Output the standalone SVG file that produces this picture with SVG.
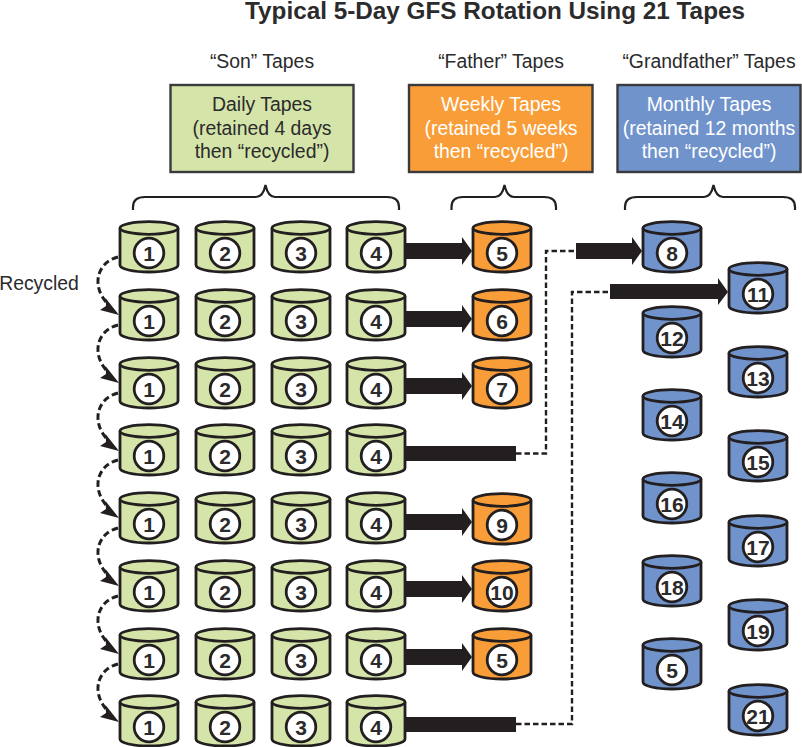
<svg xmlns="http://www.w3.org/2000/svg" width="802" height="747" viewBox="0 0 802 747">
<style>
text{font-family:"Liberation Sans",Arial,sans-serif;fill:#2b2a2c;text-anchor:middle;stroke:none}
.title{font-size:24.3px;font-weight:bold}
.head{font-size:19.4px}
.box{stroke:#3a3a3c;stroke-width:2.4}
.cap{font-size:19.4px}
.white{fill:#fff}
.can{stroke:#231f20;stroke-width:2.8}
.green{fill:#d5e5a9}.orange{fill:#f99d38}.blue{fill:#7093cc}
.num{font-size:21px;font-weight:bold}
.brace{fill:none;stroke:#231f20;stroke-width:2.2}
.dash{fill:none;stroke:#231f20;stroke-width:2.4;stroke-dasharray:5.500 3}
.curl{fill:none;stroke:#231f20;stroke-width:3;stroke-dasharray:6.500 3.500}
.bar{fill:#231f20}
</style>
<defs>
<!-- tape cylinder, origin at its top-left corner -->
<g id="body">
<path d="M0 7V44C0 48 13 51 29 51S58 48 58 44V7" stroke-linejoin="round"/>
<ellipse cx="29" cy="7" rx="29" ry="6.300"/>
<circle cx="29" cy="32" r="14.800" fill="#fff"/>
</g>
<!-- dashed reuse arc between two stacked daily tapes -->
<g id="arc">
<path class="curl" d="M118 36C98 41 91 63 106 81"/>
<path class="bar" d="M119 94L100 89L106 85L105.500 77Z"/>
</g>
<!-- short weekly arrow, tip at the origin -->
<path id="weekly-arrow" class="bar" d="M-66 -8H-10V-14L0 0L-10 14V8H-66Z"/>
</defs>
<text class="title" x="495" y="19">Typical 5-Day GFS Rotation Using 21 Tapes</text>
<text class="head" x="262" y="68">“Son” Tapes</text>
<text class="head" x="501" y="68">“Father” Tapes</text>
<text class="head" x="709" y="68">“Grandfather” Tapes</text>
<g id="daily-box"><rect class="box green" x="170.500" y="85" width="183" height="87"/>
<text class="cap" x="262" y="111">Daily Tapes</text><text class="cap" x="262" y="134.500">(retained 4 days</text><text class="cap" x="262" y="157.500">then “recycled”)</text></g>
<g id="weekly-box"><rect class="box orange" x="409" y="85" width="183.500" height="87"/>
<text class="cap white" x="501" y="111">Weekly Tapes</text><text class="cap white" x="501" y="134.500">(retained 5 weeks</text><text class="cap white" x="501" y="157.500">then “recycled”)</text></g>
<g id="monthly-box"><rect class="box blue" x="617.500" y="85" width="183" height="87"/>
<text class="cap white" x="709" y="111">Monthly Tapes</text><text class="cap white" x="709" y="134.500">(retained 12 months</text><text class="cap white" x="709" y="157.500">then “recycled”)</text></g>
<g id="braces">
<path class="brace" d="M133 210V207Q133 197 145 197H256Q263 197 265.500 185Q268 197 275 197H387Q399 197 399 207V210"/>
<path class="brace" d="M451.500 210V207Q451.500 197 463 197H495Q502 197 504.500 185Q507 197 514 197H544Q556 197 556 207V210"/>
<path class="brace" d="M625 210V207Q625 197 637 197H704Q711 197 713.500 185Q716 197 723 197H783Q795 197 795 207V210"/>
</g>
<text class="head" x="39" y="289.500">Recycled</text>
<g id="connectors">
<g id="recycle-arcs">
<use href="#arc" y="221"/><use href="#arc" y="289"/><use href="#arc" y="357"/><use href="#arc" y="424"/><use href="#arc" y="492"/><use href="#arc" y="560"/><use href="#arc" y="628"/>
</g>
<g id="to-weekly">
<use href="#weekly-arrow" x="472" y="251"/><use href="#weekly-arrow" x="472" y="319"/><use href="#weekly-arrow" x="472" y="386"/><use href="#weekly-arrow" x="472" y="522"/><use href="#weekly-arrow" x="472" y="589"/><use href="#weekly-arrow" x="472" y="657"/>
</g>
<g id="to-monthly">
<path class="bar" d="M406 446H516V461H406Z"/>
<path class="dash" d="M516 453.500H546V251H576"/>
<use href="#weekly-arrow" x="642" y="251"/>
<path class="bar" d="M406 717H516V732H406Z"/>
<path class="dash" d="M516 724H572V292H611"/>
<path class="bar" d="M610 284H718V278L728 292L718 305V299H610Z"/>
</g>
</g>
<g id="son-tapes">
<g id="s1-1" class="can green" transform="translate(120 221)"><use href="#body"/><text class="num" x="29" y="39.500">1</text></g>
<g id="s1-2" class="can green" transform="translate(196 221)"><use href="#body"/><text class="num" x="29" y="39.500">2</text></g>
<g id="s1-3" class="can green" transform="translate(272 221)"><use href="#body"/><text class="num" x="29" y="39.500">3</text></g>
<g id="s1-4" class="can green" transform="translate(347 221)"><use href="#body"/><text class="num" x="29" y="39.500">4</text></g>
<g id="s2-1" class="can green" transform="translate(120 289)"><use href="#body"/><text class="num" x="29" y="39.500">1</text></g>
<g id="s2-2" class="can green" transform="translate(196 289)"><use href="#body"/><text class="num" x="29" y="39.500">2</text></g>
<g id="s2-3" class="can green" transform="translate(272 289)"><use href="#body"/><text class="num" x="29" y="39.500">3</text></g>
<g id="s2-4" class="can green" transform="translate(347 289)"><use href="#body"/><text class="num" x="29" y="39.500">4</text></g>
<g id="s3-1" class="can green" transform="translate(120 357)"><use href="#body"/><text class="num" x="29" y="39.500">1</text></g>
<g id="s3-2" class="can green" transform="translate(196 357)"><use href="#body"/><text class="num" x="29" y="39.500">2</text></g>
<g id="s3-3" class="can green" transform="translate(272 357)"><use href="#body"/><text class="num" x="29" y="39.500">3</text></g>
<g id="s3-4" class="can green" transform="translate(347 357)"><use href="#body"/><text class="num" x="29" y="39.500">4</text></g>
<g id="s4-1" class="can green" transform="translate(120 424)"><use href="#body"/><text class="num" x="29" y="39.500">1</text></g>
<g id="s4-2" class="can green" transform="translate(196 424)"><use href="#body"/><text class="num" x="29" y="39.500">2</text></g>
<g id="s4-3" class="can green" transform="translate(272 424)"><use href="#body"/><text class="num" x="29" y="39.500">3</text></g>
<g id="s4-4" class="can green" transform="translate(347 424)"><use href="#body"/><text class="num" x="29" y="39.500">4</text></g>
<g id="s5-1" class="can green" transform="translate(120 492)"><use href="#body"/><text class="num" x="29" y="39.500">1</text></g>
<g id="s5-2" class="can green" transform="translate(196 492)"><use href="#body"/><text class="num" x="29" y="39.500">2</text></g>
<g id="s5-3" class="can green" transform="translate(272 492)"><use href="#body"/><text class="num" x="29" y="39.500">3</text></g>
<g id="s5-4" class="can green" transform="translate(347 492)"><use href="#body"/><text class="num" x="29" y="39.500">4</text></g>
<g id="s6-1" class="can green" transform="translate(120 560)"><use href="#body"/><text class="num" x="29" y="39.500">1</text></g>
<g id="s6-2" class="can green" transform="translate(196 560)"><use href="#body"/><text class="num" x="29" y="39.500">2</text></g>
<g id="s6-3" class="can green" transform="translate(272 560)"><use href="#body"/><text class="num" x="29" y="39.500">3</text></g>
<g id="s6-4" class="can green" transform="translate(347 560)"><use href="#body"/><text class="num" x="29" y="39.500">4</text></g>
<g id="s7-1" class="can green" transform="translate(120 628)"><use href="#body"/><text class="num" x="29" y="39.500">1</text></g>
<g id="s7-2" class="can green" transform="translate(196 628)"><use href="#body"/><text class="num" x="29" y="39.500">2</text></g>
<g id="s7-3" class="can green" transform="translate(272 628)"><use href="#body"/><text class="num" x="29" y="39.500">3</text></g>
<g id="s7-4" class="can green" transform="translate(347 628)"><use href="#body"/><text class="num" x="29" y="39.500">4</text></g>
<g id="s8-1" class="can green" transform="translate(120 695)"><use href="#body"/><text class="num" x="29" y="39.500">1</text></g>
<g id="s8-2" class="can green" transform="translate(196 695)"><use href="#body"/><text class="num" x="29" y="39.500">2</text></g>
<g id="s8-3" class="can green" transform="translate(272 695)"><use href="#body"/><text class="num" x="29" y="39.500">3</text></g>
<g id="s8-4" class="can green" transform="translate(347 695)"><use href="#body"/><text class="num" x="29" y="39.500">4</text></g>
</g>
<g id="father-tapes">
<g id="f1" class="can orange" transform="translate(473 221)"><use href="#body"/><text class="num" x="29" y="39.500">5</text></g>
<g id="f2" class="can orange" transform="translate(473 289)"><use href="#body"/><text class="num" x="29" y="39.500">6</text></g>
<g id="f3" class="can orange" transform="translate(473 357)"><use href="#body"/><text class="num" x="29" y="39.500">7</text></g>
<g id="f5" class="can orange" transform="translate(473 493)"><use href="#body"/><text class="num" x="29" y="39.500">9</text></g>
<g id="f6" class="can orange" transform="translate(473 560)"><use href="#body"/><text class="num" x="29" y="39.500">10</text></g>
<g id="f7" class="can orange" transform="translate(473 628)"><use href="#body"/><text class="num" x="29" y="39.500">5</text></g>
</g>
<g id="grandfather-tapes">
<g id="g8" class="can blue" transform="translate(643 221)"><use href="#body"/><text class="num" x="29" y="39.500">8</text></g>
<g id="g11" class="can blue" transform="translate(729 262)"><use href="#body"/><text class="num" x="29" y="39.500">11</text></g>
<g id="g12" class="can blue" transform="translate(643 306)"><use href="#body"/><text class="num" x="29" y="39.500">12</text></g>
<g id="g13" class="can blue" transform="translate(729 346)"><use href="#body"/><text class="num" x="29" y="39.500">13</text></g>
<g id="g14" class="can blue" transform="translate(643 389)"><use href="#body"/><text class="num" x="29" y="39.500">14</text></g>
<g id="g15" class="can blue" transform="translate(729 430)"><use href="#body"/><text class="num" x="29" y="39.500">15</text></g>
<g id="g16" class="can blue" transform="translate(643 472)"><use href="#body"/><text class="num" x="29" y="39.500">16</text></g>
<g id="g17" class="can blue" transform="translate(729 515)"><use href="#body"/><text class="num" x="29" y="39.500">17</text></g>
<g id="g18" class="can blue" transform="translate(643 555)"><use href="#body"/><text class="num" x="29" y="39.500">18</text></g>
<g id="g19" class="can blue" transform="translate(729 599)"><use href="#body"/><text class="num" x="29" y="39.500">19</text></g>
<g id="g20" class="can blue" transform="translate(643 638)"><use href="#body"/><text class="num" x="29" y="39.500">5</text></g>
<g id="g21" class="can blue" transform="translate(729 684)"><use href="#body"/><text class="num" x="29" y="39.500">21</text></g>
</g>
</svg>
